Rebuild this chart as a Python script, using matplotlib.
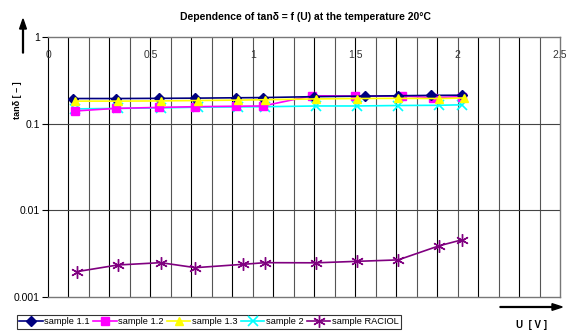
import matplotlib
matplotlib.use("Agg")
import matplotlib.pyplot as plt
import numpy as np

# voltage U [V] for each sample
u_11 = [0.12, 0.33, 0.54, 0.72, 0.92, 1.05, 1.30, 1.55, 1.71, 1.87, 2.02]
u_12 = [0.13, 0.33, 0.54, 0.72, 0.92, 1.05, 1.29, 1.50, 1.73, 1.88, 2.02]
u_13 = [0.13, 0.34, 0.55, 0.73, 0.93, 1.06, 1.31, 1.51, 1.71, 1.91, 2.03]
u_2 = [0.13, 0.34, 0.55, 0.73, 0.93, 1.06, 1.31, 1.51, 1.71, 1.91, 2.02]
u_rac = [0.14, 0.34, 0.55, 0.72, 0.95, 1.06, 1.31, 1.51, 1.71, 1.91, 2.02]

# tan delta values
tan_11 = [0.195, 0.195, 0.196, 0.197, 0.199, 0.200, 0.205, 0.208, 0.210, 0.212, 0.213]
tan_12 = [0.140, 0.150, 0.154, 0.157, 0.159, 0.160, 0.210, 0.208, 0.208, 0.200, 0.205]
tan_13 = [0.182, 0.182, 0.183, 0.185, 0.187, 0.189, 0.193, 0.195, 0.196, 0.195, 0.198]
tan_2 = [0.148, 0.150, 0.152, 0.155, 0.156, 0.157, 0.160, 0.160, 0.162, 0.163, 0.165]
tan_rac = [0.00196, 0.00234, 0.00249, 0.00218, 0.00238, 0.00249, 0.00248, 0.00258, 0.00268, 0.0039, 0.00456]

labels = ["sample 1.1", "sample 1.2", "sample 1.3", "sample 2", "sample RACIOL"]
x_ticks = [0, 0.5, 1, 1.5, 2, 2.5]
x_tick_labels = ["0", "0.5", "1", "1.5", "2", "2.5"]
y_ticks = [1, 0.1, 0.01, 0.001]
y_tick_labels = ["1", "0.1", "0.01", "0.001"]

plt.rcParams['font.family'] = ['Liberation Sans', 'DejaVu Sans']

fig = plt.figure(figsize=(5.69, 3.32), dpi=100)
ax = fig.add_axes([48/569, 35/332, 512/569, 260/332])

ax.set_yscale("log")
ax.set_xlim(0, 2.5)
ax.set_ylim(0.001, 1)

# grid
for xv in np.arange(1, 25) / 10:
    ax.axvline(xv, color="black" if round(xv*10) % 2 else "#555555", lw=0.8, zorder=1)
for yv in [0.1, 0.01]:
    ax.axhline(yv, color="#444444", lw=0.8, zorder=1)

ax.plot(u_11, tan_11, color="#000080", marker="D", ms=5, lw=1.2, label=labels[0], zorder=5)
ax.plot(u_12, tan_12, color="#FF00FF", marker="s", ms=6, lw=1.2, label=labels[1], zorder=4)
ax.plot(u_13, tan_13, color="#FFFF00", marker="^", ms=6, lw=1.2, label=labels[2], zorder=6)
ax.plot(u_2, tan_2, color="#00FFFF", marker="x", ms=7, mew=1.2, lw=1.2, label=labels[3], zorder=3)
ax.plot(u_rac, tan_rac, color="#800080", marker=(6, 2, 0), ms=9, mew=1.0, lw=1.2, label=labels[4], zorder=5)

# x ticks labels drawn inside at the top
ax.set_xticks(x_ticks)
ax.set_xticklabels([])
ax.tick_params(axis="x", length=0)
for xv, lab in zip(x_ticks, x_tick_labels):
    ax.text(xv, 0.62, lab, ha="center", va="center", fontsize=7.5, color="#333333", zorder=7)

ax.set_yticks(y_ticks)
ax.set_yticklabels(y_tick_labels, fontsize=7.5)
ax.minorticks_off()
ax.tick_params(axis="y", length=4, width=0.8, pad=2)

for s in ["top", "right", "bottom"]:
    ax.spines[s].set_color("#777777")
    ax.spines[s].set_linewidth(1.0)
ax.spines["left"].set_color("black")

fig.text(305/569, 1 - 17/332, "Dependence of tan\u03b4 = f (U) at the temperature 20\u00b0C",
         ha="center", va="center", fontsize=7.5, fontweight="bold")
fig.text(17/569, 1 - 100/332, "tan\u03b4 [ \u2013 ]", rotation=90, ha="center", va="center",
         fontsize=6.5, fontweight="bold")
fig.text(532/569, 1 - 325/332, "U  [ V ]", ha="center", va="center", fontsize=7, fontweight="bold")

fig.patches.append(matplotlib.patches.FancyArrow(23/569, 1 - 53/332, 0, 24/332, width=0.0015,
                   head_width=0.012, head_length=0.03, color="black", transform=fig.transFigure))
fig.patches.append(matplotlib.patches.FancyArrow(500/569, 1 - 307/332, 52/569, 0, width=0.0025,
                   head_width=0.02, head_length=0.018, color="black", transform=fig.transFigure))

leg = fig.legend(loc="upper left", bbox_to_anchor=(17/569, 1 - 315/332), ncol=5, fontsize=6.7,
                 frameon=True, fancybox=False, edgecolor="black", handlelength=2.5,
                 handletextpad=0.2, columnspacing=0.35, borderpad=0.25, borderaxespad=0)
leg.get_frame().set_linewidth(0.8)

fig.savefig("out.png", dpi=100)
